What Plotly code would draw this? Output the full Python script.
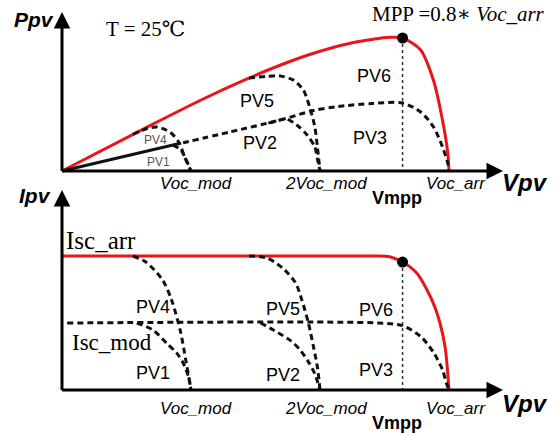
import plotly.graph_objects as go

# ---------------- data ----------------
# Voltage in units of Voc_mod (Voc_arr = 3 modules in series)
VOC_MOD = 1.0
VOC_2MOD = 2.0
VOC_ARR = 3.0
V_MPP = 2.64
ISC_ARR = 1.0
ISC_MOD = 0.5

# Power curves (P / P_mpp)
p6_v = [0, 0.66, 1.07, 1.43, 1.69, 1.95, 2.21, 2.41, 2.54, 2.64, 2.78, 2.88, 2.95, 2.99, 3.0]
p6_p = [0, 0.33, 0.53, 0.69, 0.795, 0.885, 0.955, 0.99, 1.005, 1.0, 0.91, 0.68, 0.38, 0.14, 0]
p4_v = [0.55, 0.66, 0.74, 0.84, 0.91, 0.95, 0.99, 1.0]
p4_p = [0.275, 0.32, 0.33, 0.29, 0.21, 0.105, 0.02, 0]
p5_v = [1.45, 1.58, 1.69, 1.79, 1.87, 1.92, 1.96, 1.98, 2.0]
p5_p = [0.70, 0.71, 0.715, 0.685, 0.61, 0.48, 0.33, 0.18, 0]
p1_v = [0, 0.86]
p1_p = [0, 0.195]
p1_drop_v = [0.86, 0.92, 0.96, 1.0]
p1_drop_p = [0.195, 0.16, 0.09, 0]
p2_v = [1.60, 1.69, 1.74, 1.82, 1.90, 1.96, 1.98, 2.0]
p2_p = [0.36, 0.383, 0.391, 0.346, 0.271, 0.18, 0.09, 0]
p3_v = [0.86, 1.30, 1.69, 1.95, 2.13, 2.41, 2.64, 2.78, 2.88, 2.95, 2.99, 3.0]
p3_p = [0.195, 0.293, 0.383, 0.455, 0.484, 0.508, 0.511, 0.444, 0.331, 0.18, 0.06, 0]
P_MPP = 1.0

# Current curves (I / Isc_arr)
i6_v = [0, 2.40, 2.54, 2.64, 2.75, 2.83, 2.89, 2.93, 2.97, 2.99, 3.0]
i6_i = [1, 1, 0.995, 0.955, 0.873, 0.746, 0.62, 0.5, 0.32, 0.13, 0]
i4_v = [0.55, 0.65, 0.78, 0.85, 0.92, 0.96, 0.99, 1.0]
i4_i = [1, 0.955, 0.82, 0.67, 0.43, 0.22, 0.06, 0]
i1_v = [0.58, 0.705, 0.81, 0.89, 0.94, 0.98, 1.0]
i1_i = [0.5, 0.448, 0.35, 0.275, 0.2, 0.1, 0]
i5_v = [1.45, 1.59, 1.71, 1.81, 1.86, 1.91, 1.95, 1.98, 2.0]
i5_i = [1, 0.985, 0.91, 0.80, 0.67, 0.5, 0.32, 0.17, 0]
i2_v = [1.54, 1.67, 1.77, 1.845, 1.91, 1.96, 2.0]
i2_i = [0.5, 0.43, 0.37, 0.30, 0.21, 0.12, 0]
i3_v = [0.04, 2.45, 2.64, 2.78, 2.88, 2.95, 2.98, 3.0]
i3_i = [0.5, 0.5, 0.48, 0.40, 0.28, 0.15, 0.05, 0]
I_MPP = 0.955

# ---------------- layout geometry ----------------
W, H = 560, 436
X0_PX, X_PX_PER_V = 62, 129          # origin and scale of the voltage axis
TOP_AXIS_PX, P_PX = 171, 133         # power panel baseline / scale
BOT_AXIS_PX, I_PX = 390, 134         # current panel baseline / scale

x_range = [-X0_PX / X_PX_PER_V, (W - X0_PX) / X_PX_PER_V]
y2_range = [(TOP_AXIS_PX - H) / P_PX, TOP_AXIS_PX / P_PX]
y_range = [(BOT_AXIS_PX - H) / I_PX, BOT_AXIS_PX / I_PX]

RED = "#e8161b"
BLK = "#111111"
SANS = "Liberation Sans, Arial, sans-serif"
SERIF = "Liberation Serif, Times New Roman, DejaVu Serif, Noto Sans CJK SC, serif"
DASH = "6px,4px"

fig = go.Figure()


def curve(xs, ys, axis, color, dash=None, width=3):
    fig.add_trace(go.Scatter(
        x=xs, y=ys, yaxis=axis, mode="lines",
        line=dict(color=color, width=width, dash=dash, shape="spline", smoothing=0.8),
        hoverinfo="skip", showlegend=False))


# power panel
curve(p6_v, p6_p, "y2", RED)
curve(p1_v, p1_p, "y2", BLK, width=3)
curve(p1_drop_v, p1_drop_p, "y2", BLK, DASH)
curve(p3_v, p3_p, "y2", BLK, DASH)
curve(p2_v, p2_p, "y2", BLK, DASH)
curve(p4_v, p4_p, "y2", BLK, DASH)
curve(p5_v, p5_p, "y2", BLK, DASH)
curve([V_MPP, V_MPP], [P_MPP, 0], "y2", "#333333", "dot", 1.5)

# current panel
curve(i6_v, i6_i, "y", RED)
curve(i3_v, i3_i, "y", BLK, DASH)
curve(i1_v, i1_i, "y", BLK, DASH)
curve(i2_v, i2_i, "y", BLK, DASH)
curve(i4_v, i4_i, "y", BLK, DASH)
curve(i5_v, i5_i, "y", BLK, DASH)
curve([V_MPP, V_MPP], [I_MPP, 0], "y", "#333333", "dot", 1.5)

# maximum power point markers
fig.add_trace(go.Scatter(x=[V_MPP], y=[P_MPP], yaxis="y2", mode="markers",
                         marker=dict(color="black", size=11), hoverinfo="skip", showlegend=False))
fig.add_trace(go.Scatter(x=[V_MPP], y=[I_MPP], yaxis="y", mode="markers",
                         marker=dict(color="black", size=11), hoverinfo="skip", showlegend=False))

annotations = []


def arrow(x_tip, y_tip, x_tail, y_tail, yref):
    annotations.append(dict(
        x=x_tip, y=y_tip, ax=x_tail, ay=y_tail, xref="x", yref=yref, axref="x", ayref=yref,
        showarrow=True, arrowhead=2, arrowsize=1.1, arrowwidth=3, arrowcolor="black",
        standoff=0, startstandoff=0, text=""))


x_tip = (503 - X0_PX) / X_PX_PER_V
arrow(x_tip, 0, -0.012, 0, "y2")
arrow(0, (TOP_AXIS_PX - 12) / P_PX, 0, -0.012, "y2")
arrow(x_tip, 0, -0.012, 0, "y")
arrow(0, (BOT_AXIS_PX - 190) / I_PX, 0, -0.012, "y")


def label(text, px, py, size, family=SANS, color="black"):
    annotations.append(dict(
        text=text, x=px / W, y=1 - py / H, xref="paper", yref="paper",
        showarrow=False, xanchor="center", yanchor="middle",
        font=dict(family=family, size=size, color=color)))


# axis titles
label("<b><i>Ppv</i></b>", 34, 19, 21)
label("<b><i>Ipv</i></b>", 35, 195, 21)
label("<b><i>Vpv</i></b>", 525, 182, 24)
label("<b><i>Vpv</i></b>", 525, 403, 24)

# voltage ticks, placed on the voltage scale
for yrow in (183, 408):
    for v, t in ((VOC_MOD, "Voc_mod"), (VOC_2MOD, "2Voc_mod"), (VOC_ARR, "Voc_arr")):
        annotations.append(dict(
            text=f"<i>{t}</i>", x=v, y=1 - yrow / H, xref="x", yref="paper",
            showarrow=False, xanchor="center", yanchor="middle",
            xshift=(5 if v == VOC_MOD else 6 if v == VOC_2MOD else 7),
            font=dict(family=SANS, size=17, color="black")))
    annotations.append(dict(
        text="<b>Vmpp</b>", x=V_MPP, y=1 - (yrow + 15) / H, xref="x", yref="paper",
        showarrow=False, xanchor="center", yanchor="middle", xshift=-6,
        font=dict(family=SANS, size=18, color="black")))

# panel annotations
label("T = 25℃", 145, 29, 21, SERIF)
label("MPP =0.8∗ <i>Voc_arr</i>", 458, 14, 21, SERIF)
label("Isc_arr", 101, 240, 25, SERIF)
label("Isc_mod", 112, 342, 23, SERIF)

# string labels
for t, px, py in (("PV6", 374, 76), ("PV3", 370, 138), ("PV5", 257, 101), ("PV2", 260, 143),
                  ("PV4", 153, 307), ("PV1", 153, 373), ("PV5", 283, 309), ("PV2", 283, 375),
                  ("PV6", 376, 310), ("PV3", 376, 370)):
    label(t, px, py, 18)
label("PV4", 155, 140, 12, color="#555555")
label("PV1", 158, 162, 12, color="#555555")

fig.update_layout(
    width=W, height=H, autosize=False,
    margin=dict(l=0, r=0, t=0, b=0),
    paper_bgcolor="white", plot_bgcolor="white",
    xaxis=dict(range=x_range, visible=False, fixedrange=True),
    yaxis=dict(range=y_range, domain=[0, 1], visible=False, fixedrange=True),
    yaxis2=dict(range=y2_range, domain=[0, 1], overlaying="y", visible=False, fixedrange=True),
    annotations=annotations,
    showlegend=False,
)

fig.write_html("out.html", config={"displayModeBar": False})
